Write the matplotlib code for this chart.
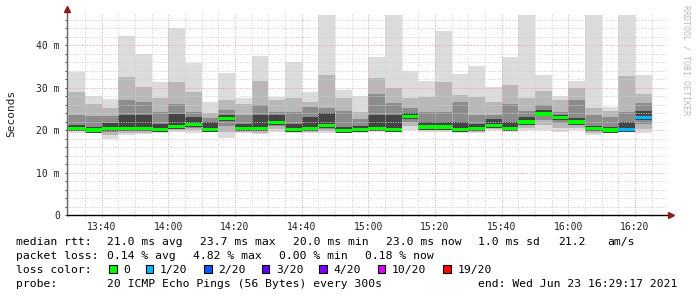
import matplotlib
matplotlib.use("Agg")
import matplotlib.pyplot as plt
import matplotlib.dates as mdates
from matplotlib.patches import Rectangle
from matplotlib.ticker import MultipleLocator
import pandas as pd

# 5 minute slots, 13:30 .. 16:20 (bar start)
slots = pd.date_range("2021-06-23 13:30", periods=35, freq="5min")

# smoke levels per slot (ms)
rtt_top = [33.7, 28.0, 27.3, 42.1, 37.9, 31.3, 44.1, 35.9, 26.7, 33.5, 27.6, 37.5,
           27.8, 36.1, 29.0, 47.1, 29.4, 28.0, 37.2, 47.1, 33.8, 31.5, 43.3, 33.1,
           35.1, 30.2, 37.2, 47.1, 33.0, 28.0, 31.6, 47.1, 25.5, 47.1, 33.0]
rtt_q1 = [29.0, 26.1, 25.1, 32.6, 30.2, 27.5, 31.4, 29.0, 24.0, 27.1, 26.1, 31.6,
          27.1, 27.6, 26.7, 33.0, 27.5, 24.2, 32.2, 29.8, 27.5, 27.8, 31.3, 28.2,
          27.8, 26.7, 30.6, 27.6, 29.3, 27.1, 29.8, 25.1, 24.5, 32.8, 28.4]
rtt_q2 = [23.5, 23.2, 23.2, 27.1, 26.7, 24.3, 26.2, 24.2, 22.9, 24.7, 23.5, 25.8,
          24.3, 24.3, 25.5, 25.1, 24.4, 22.7, 28.5, 26.3, 25.1, 24.3, 24.3, 26.7,
          23.5, 23.5, 26.1, 24.4, 25.9, 24.3, 27.1, 23.5, 23.1, 24.3, 26.3]
rtt_q3 = [21.2, 20.8, 21.6, 23.5, 23.5, 21.5, 23.8, 23.0, 22.0, 23.5, 21.5, 23.5,
          23.5, 21.5, 23.0, 24.0, 20.8, 21.0, 23.5, 23.5, 24.0, 22.0, 22.0, 22.0,
          21.5, 22.5, 22.0, 23.0, 24.8, 23.5, 22.8, 21.0, 20.8, 22.0, 24.4]
rtt_med = [20.3, 20.0, 20.4, 20.3, 20.3, 20.2, 20.8, 21.3, 20.2, 22.8, 20.4, 20.4,
           21.7, 20.2, 20.4, 21.0, 19.9, 20.1, 20.3, 20.2, 23.1, 20.7, 20.7, 20.1,
           20.3, 21.0, 20.4, 21.9, 23.8, 22.9, 21.9, 20.3, 20.0, 20.2, 23.0]
rtt_low = [19.4, 19.2, 18.0, 18.8, 19.0, 19.2, 19.6, 19.4, 19.5, 18.1, 19.2, 19.0,
           19.6, 19.2, 19.2, 19.2, 19.6, 19.4, 19.6, 19.6, 20.0, 19.6, 19.6, 19.2,
           19.2, 20.0, 19.6, 20.0, 20.0, 19.6, 20.0, 18.8, 19.2, 19.6, 19.2]
loss = [0] * 33 + [1, 1]  # pings lost out of 20

loss_levels = [0, 1, 2, 3, 4, 10, 19]
loss_labels = ["0", "1/20", "2/20", "3/20", "4/20", "10/20", "19/20"]
loss_colors = ["#00ff00", "#00b8ff", "#0059ff", "#5e00ff", "#7e00ff", "#dd00ff", "#ff0000"]

W, H = 697, 297
fig = plt.figure(figsize=(W / 100, H / 100), dpi=100)
ax = fig.add_axes([67 / W, 1 - 215 / H, 600 / W, 201.75 / H])

width = pd.Timedelta(minutes=5) / pd.Timedelta(days=1)
x = mdates.date2num(slots)

def band(lo, hi, col):
    ax.bar(x, [h - l for h, l in zip(hi, lo)], bottom=lo, width=width,
           align="edge", color=col, linewidth=0, zorder=1)

lowB = [l + 0.3 * (m - l) for l, m in zip(rtt_low, rtt_med)]
lowC = [l + 0.6 * (m - l) for l, m in zip(rtt_low, rtt_med)]
lowD = [m - 0.6 for m in rtt_med]
band(rtt_low, rtt_top, "#dcdcdc")
band(lowB, rtt_q1, "#b8b8b8")
band(lowC, rtt_q2, "#8c8c8c")
band(lowD, rtt_q3, "#444444")

# median line coloured by loss
med_col = [loss_colors[max(i for i, lv in enumerate(loss_levels) if lv <= n)] for n in loss]
ax.bar(x, 0.75, bottom=[m - 0.375 for m in rtt_med], width=width, align="edge",
       color=med_col, linewidth=0, zorder=4)

t0 = pd.Timestamp("2021-06-23 13:29:36")
ax.set_xlim(mdates.date2num(t0), mdates.date2num(t0 + pd.Timedelta(hours=3)))
ax.set_ylim(0, 47.5)

ax.xaxis.set_major_locator(mdates.MinuteLocator(byminute=[0, 20, 40]))
ax.xaxis.set_minor_locator(mdates.MinuteLocator(byminute=range(0, 60, 5)))
ax.xaxis.set_major_formatter(mdates.DateFormatter("%H:%M"))
ax.yaxis.set_major_locator(MultipleLocator(10))
ax.yaxis.set_minor_locator(MultipleLocator(2))
ax.set_yticks([0, 10, 20, 30, 40])
ax.set_yticklabels(["0", "10 m", "20 m", "30 m", "40 m"])

ax.grid(which="minor", color="#cfcfcf", linestyle=(0, (1, 1.5)), linewidth=0.7, zorder=3)
ax.grid(which="major", color="#e3a5a5", linestyle=(0, (1, 1.5)), linewidth=0.7, zorder=3)
ax.set_axisbelow(False)

mono = "DejaVu Sans Mono"
ax.tick_params(which="both", labelsize=7, length=1.6, width=0.6, pad=3.5, colors="#333333")
ax.tick_params(axis="x", which="major", color="#e3a5a5")
ax.tick_params(axis="x", which="minor", color="#cfcfcf")
for lab in ax.get_xticklabels() + ax.get_yticklabels():
    lab.set_family(mono)
    lab.set_color("#222222")

for s in ["top", "right"]:
    ax.spines[s].set_visible(False)
ax.spines["left"].set_color("#666666")
ax.spines["left"].set_linewidth(1.0)
ax.spines["bottom"].set_visible(False)
ax.plot([0, 1.003], [0, 0], transform=ax.transAxes, color="black", lw=1.0,
        clip_on=False, zorder=5)
ax.plot([0, 0], [1, 1.01], transform=ax.transAxes, color="#666666", lw=1.0,
        clip_on=False, zorder=5)
ax.plot([0], [1.02], transform=ax.transAxes, marker="^", ms=4.5, color="#8b1a1a",
        clip_on=False, zorder=6)
ax.plot([1.006], [0], transform=ax.transAxes, marker=">", ms=4.5, color="#8b1a1a",
        clip_on=False, zorder=6)

ax.set_ylabel("Seconds", family=mono, fontsize=8, color="#222222")
ax.yaxis.set_label_coords((16 - 67) / 600, (215 - 113) / 201.75)

fig.text(686 / W, 1 - 5 / H, "RRDTOOL / TOBI OETIKER", rotation=-90, family=mono,
         fontsize=6, color="#bbbbbb", ha="center", va="top")

def put(px, base, s):
    fig.text(px / W, 1 - base / H, s, family=mono, fontsize=8.2, color="black",
             ha="left", va="baseline")

rows = [244.7, 258.8, 272.9, 287.0]
put(16, rows[0], "median rtt:")
for px, s in [(107.3, "21.0 ms avg"), (200, "23.7 ms max"), (293.3, "20.0 ms min"),
              (386.3, "23.0 ms now"), (478.3, "1.0 ms sd"), (558.3, "21.2"), (607.5, "am/s")]:
    put(px, rows[0], s)
put(16, rows[1], "packet loss:")
for px, s in [(107.3, "0.14 % avg"), (193.3, "4.82 % max"), (279.3, "0.00 % min"),
              (365, "0.18 % now")]:
    put(px, rows[1], s)
put(16, rows[2], "loss color:")
box_x = [109, 145.7, 204, 261.7, 319.3, 377.7, 443.3]
for bx, lab, col in zip(box_x, loss_labels, loss_colors):
    fig.add_artist(Rectangle((bx / W, 1 - 272.7 / H), 7.5 / W, 8 / H, transform=fig.transFigure,
                             facecolor=col, edgecolor="black", linewidth=0.8))
    put(bx + 14.2, rows[2], lab)
put(16, rows[3], "probe:")
put(107.3, rows[3], "20 ICMP Echo Pings (56 Bytes) every 300s")
put(477.8, rows[3], "end: Wed Jun 23 16:29:17 2021")

fig.savefig("out.png", dpi=100, facecolor="white")
